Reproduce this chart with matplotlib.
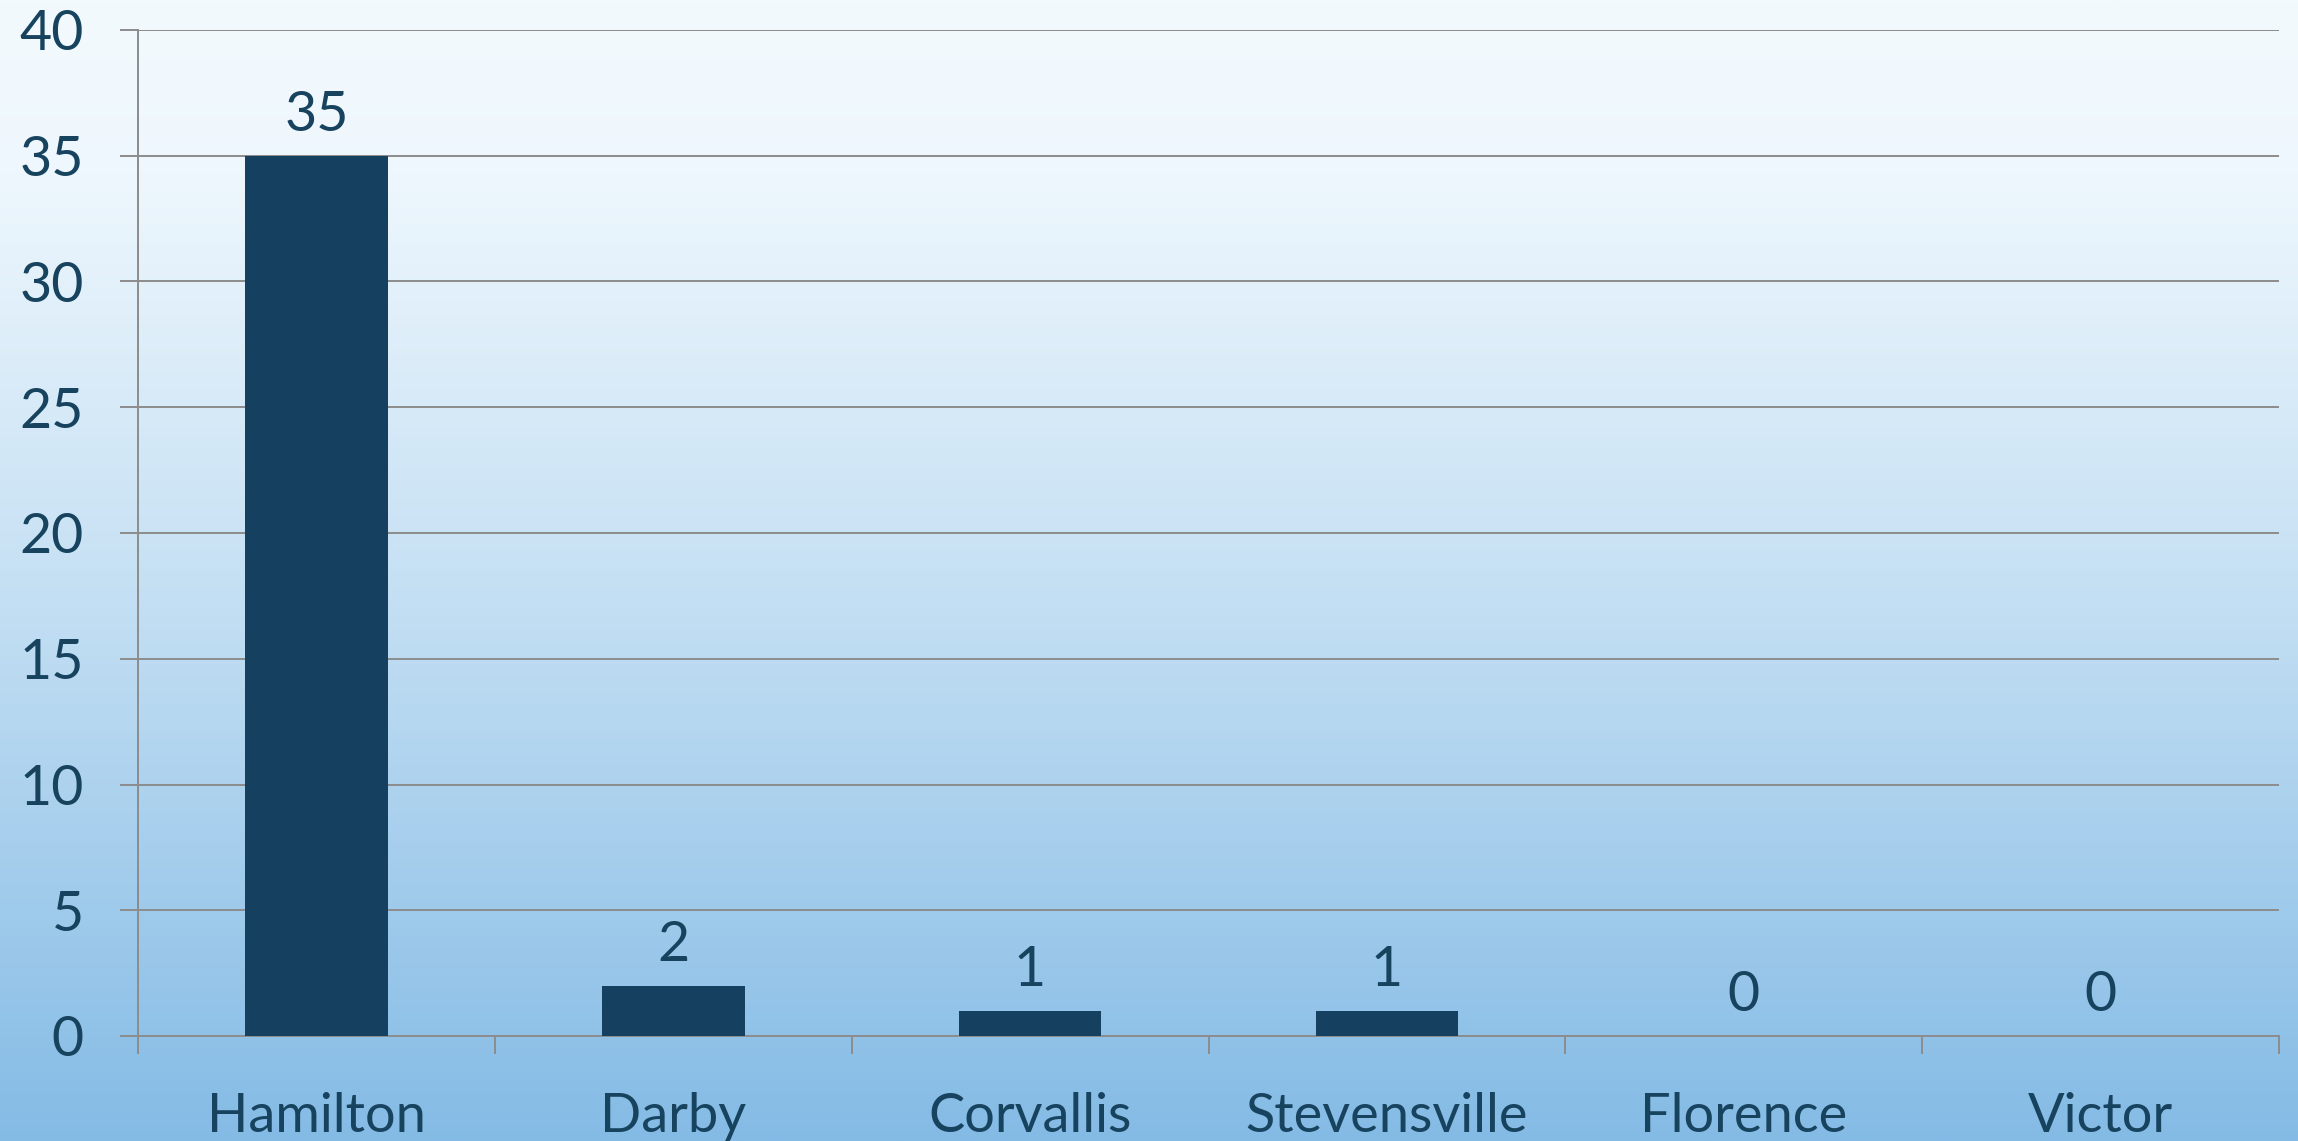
import numpy as np
from matplotlib import pyplot as plt
from matplotlib.colors import LinearSegmentedColormap

towns = ['Hamilton', 'Darby', 'Corvallis', 'Stevensville', 'Florence', 'Victor']
counts = [35, 2, 1, 1, 0, 0]
y_ticks = [0, 5, 10, 15, 20, 25, 30, 35, 40]

text_color = '#17435f'
bar_color = '#15405f'
line_color = '#8c8c8c'

plt.rcParams['font.family'] = ['Lato', 'DejaVu Sans']

fig = plt.figure(figsize=(22.98, 11.41), dpi=100)

# gradient background over the whole figure
bg = fig.add_axes([0, 0, 1, 1], zorder=0)
cmap = LinearSegmentedColormap.from_list(
  'bg', [(0, '#f3fafe'), (0.15, '#eef7fd'), (0.5, '#c7e1f4'), (1, '#84bbe5')])
grad = np.linspace(0, 1, 512).reshape(-1, 1)
bg.imshow(grad, aspect='auto', cmap=cmap, extent=[0, 1, 0, 1], origin='upper')
bg.set_axis_off()

W, H = 2298, 1141
left, right, top, bottom = 138, 2279, 30, 1036
ax = fig.add_axes([left / W, 1 - bottom / H, (right - left) / W, (bottom - top) / H], zorder=1)
ax.set_facecolor('none')

x = np.arange(len(towns))
ax.bar(x, counts, width=0.4, color=bar_color, zorder=3)

for xi, c in zip(x, counts):
  ax.annotate(str(c), (xi, c), xytext=(0, 18), textcoords='offset points',
              ha='center', va='baseline', fontsize=40, color=text_color)

ax.set_xlim(-0.5, len(towns) - 0.5)
ax.set_ylim(0, 40)
ax.set_yticks(y_ticks)
ax.set_yticklabels([str(t) for t in y_ticks], fontsize=40, color=text_color)
ax.yaxis.grid(True, color=line_color, linewidth=1.4, zorder=1)
ax.tick_params(axis='y', length=13, width=1.4, color=line_color, pad=26)

ax.set_xticks(x)
ax.set_xticklabels(towns, fontsize=39, color=text_color)
ax.set_xticks(np.arange(len(towns) + 1) - 0.5, minor=True)
ax.tick_params(axis='x', which='major', length=0, pad=40)
ax.tick_params(axis='x', which='minor', length=13, width=1.4, color=line_color)

for side in ['top', 'right']:
  ax.spines[side].set_visible(False)
for side in ['left', 'bottom']:
  ax.spines[side].set_color(line_color)
  ax.spines[side].set_linewidth(1.4)

fig.savefig('out.png', dpi=100)
